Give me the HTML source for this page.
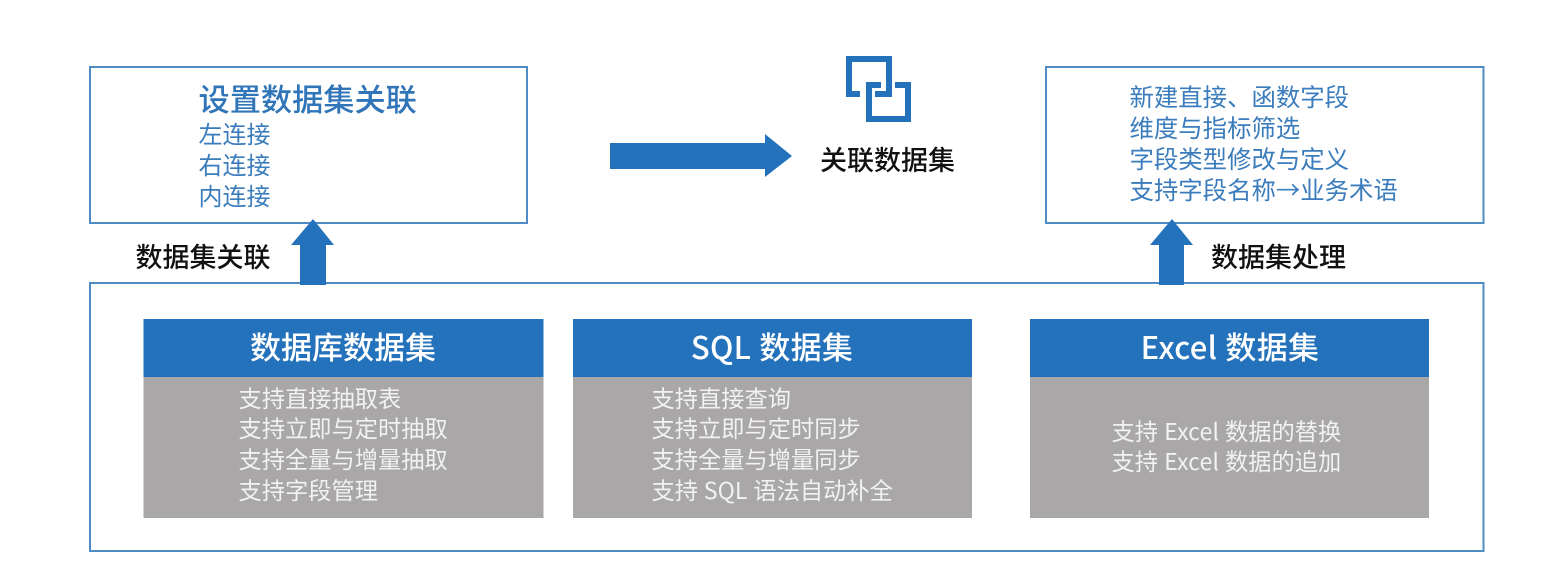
<!DOCTYPE html>
<html lang="zh">
<head>
<meta charset="utf-8">
<style>
html,body{margin:0;padding:0;background:#fff;width:1566px;height:582px;overflow:hidden}
svg{display:block;filter:blur(.35px)}
text{font-family:"Noto Sans CJK SC","Liberation Sans",sans-serif}
.b{fill:#3a7cbc;font-size:24px}
.k{fill:#111;font-size:27px;font-weight:500}
.h{fill:#fff;font-size:31px;font-weight:500;text-anchor:middle}
.w{fill:#f2f2f2;font-size:23.25px}
</style>
</head>
<body>
<svg width="1566" height="582" viewBox="0 0 1566 582" xmlns="http://www.w3.org/2000/svg">
<rect x="0" y="0" width="1566" height="582" fill="#fff"/>
<g fill="none" stroke="#4f8cc4" stroke-width="2">
<rect x="90" y="67" width="437" height="156"/>
<rect x="1046" y="67" width="437.5" height="156"/>
<rect x="90" y="283" width="1393.5" height="268"/>
</g>
<g fill="#2372bb">
<polygon points="313,219 334,245 326,245 326,285 300,285 300,245 291,245"/>
<polygon points="1172,219 1193,245 1184,245 1184,285 1159,285 1159,245 1150,245"/>
<polygon points="610,143 765,143 765,134 792,156 765,177 765,169 610,169"/>
<rect x="143.5" y="319" width="400" height="58"/>
<rect x="573" y="319" width="399" height="58"/>
<rect x="1030" y="319" width="399" height="58"/>
</g>
<g fill="#a9a7a8">
<rect x="143.5" y="377" width="400" height="141"/>
<rect x="573" y="377" width="399" height="141"/>
<rect x="1030" y="377" width="399" height="141"/>
</g>
<g fill="none" stroke="#2372bb" stroke-width="6">
<polyline points="860,94 849,94 849,59 889,59 889,94 875,94"/>
<polyline points="895,85 908,85 908,119 869,119 869,85 881,85"/>
</g>
<text x="198.5" y="111" fill="#2f75b8" font-weight="500" style="font-size:31.2px">设置数据集关联</text>
<text class="b" x="198.5" y="143">左连接</text>
<text class="b" x="198.5" y="174">右连接</text>
<text class="b" x="198.5" y="205">内连接</text>
<text class="b" x="1129.5" y="106" style="font-size:24.4px">新建直接、函数字段</text>
<text class="b" x="1129.5" y="137" style="font-size:24.4px">维度与指标筛选</text>
<text class="b" x="1129.5" y="168" style="font-size:24.4px">字段类型修改与定义</text>
<text class="b" x="1129.5" y="199" style="font-size:24.4px">支持字段名称→业务术语</text>
<text class="k" x="135.5" y="267">数据集关联</text>
<text class="k" x="820" y="170">关联数据集</text>
<text class="k" x="1211" y="267">数据集处理</text>
<text class="h" x="343" y="359">数据库数据集</text>
<text class="h" x="772" y="359" style="word-spacing:1px;letter-spacing:.25px">SQL 数据集</text>
<text class="h" x="1230" y="359" style="word-spacing:1px;letter-spacing:.3px">Excel 数据集</text>
<text class="w" x="238.5" y="407">支持直接抽取表</text>
<text class="w" x="238.5" y="437">支持立即与定时抽取</text>
<text class="w" x="238.5" y="468">支持全量与增量抽取</text>
<text class="w" x="238.5" y="499">支持字段管理</text>
<text class="w" x="651.5" y="407">支持直接查询</text>
<text class="w" x="651.5" y="437">支持立即与定时同步</text>
<text class="w" x="651.5" y="468">支持全量与增量同步</text>
<text class="w" x="651.5" y="499" style="word-spacing:.6px">支持 SQL 语法自动补全</text>
<text class="w" x="1111.5" y="440" style="word-spacing:.9px">支持 Excel 数据的替换</text>
<text class="w" x="1111.5" y="470" style="word-spacing:.9px">支持 Excel 数据的追加</text>
</svg>
</body>
</html>
